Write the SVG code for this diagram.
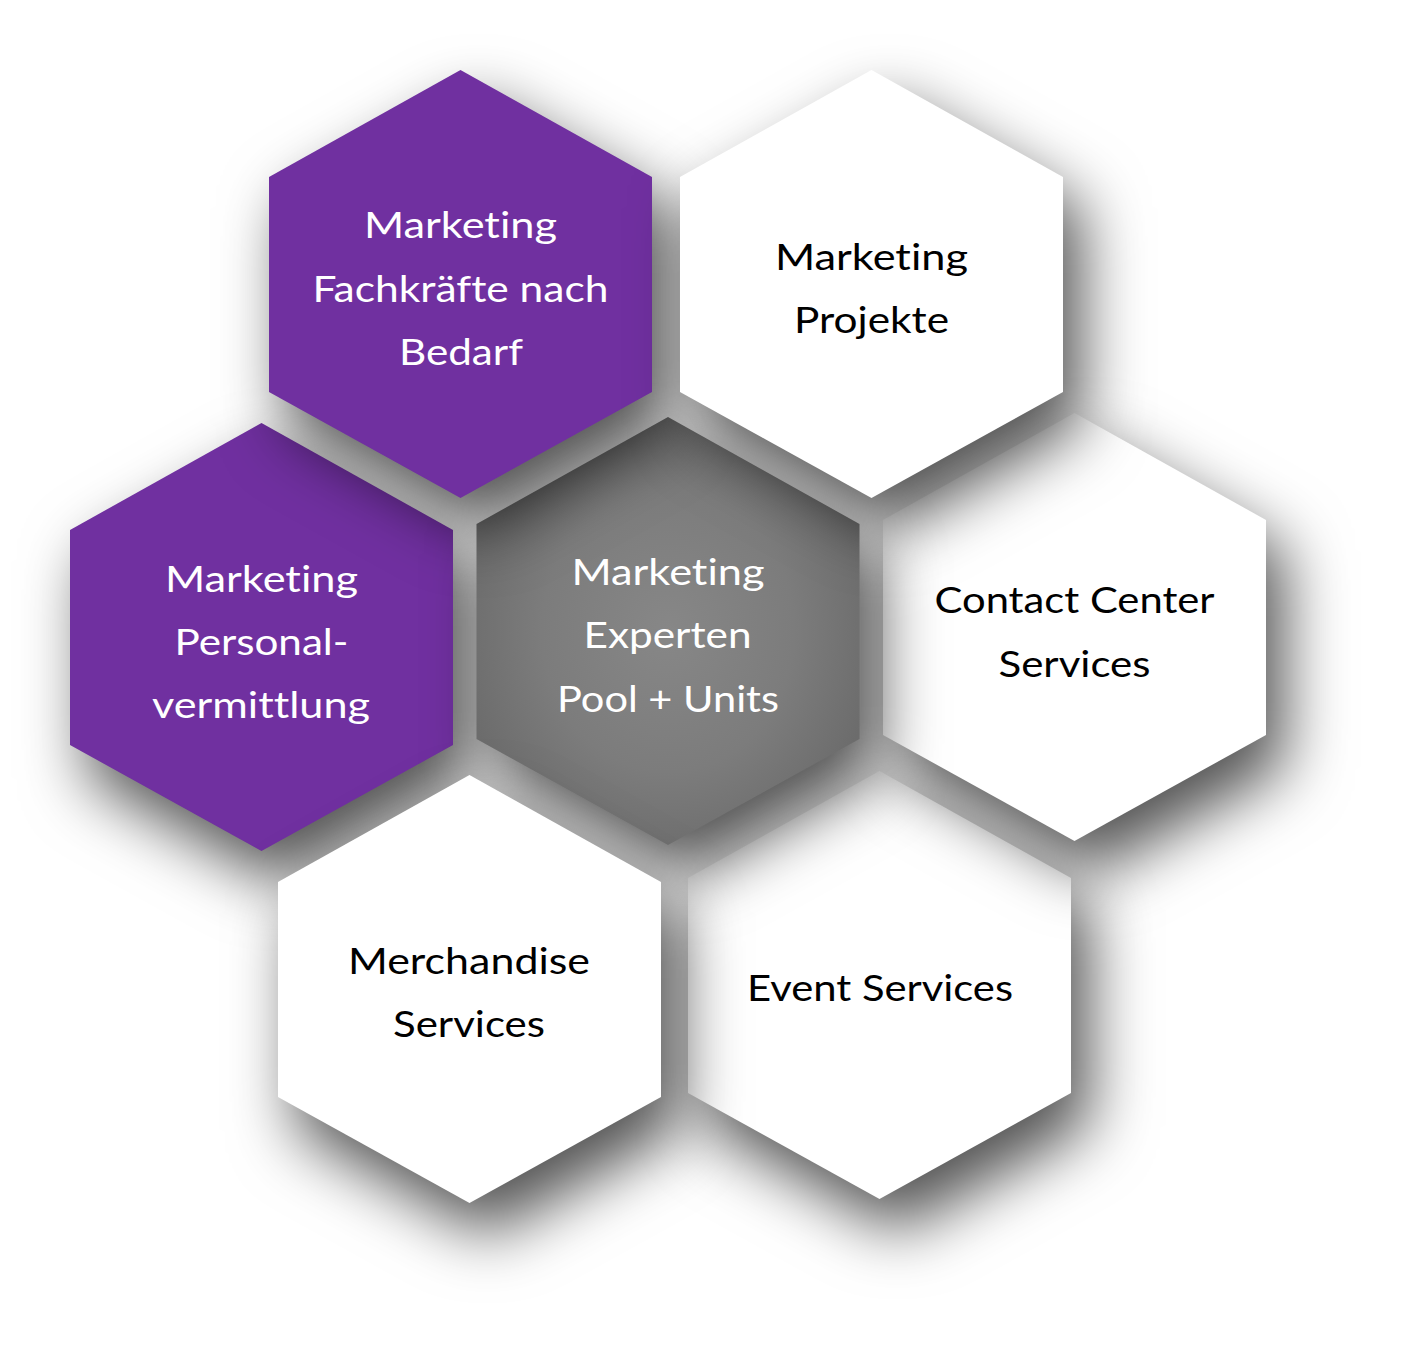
<svg xmlns="http://www.w3.org/2000/svg" xmlns:xlink="http://www.w3.org/1999/xlink" width="1408" height="1347" viewBox="0 0 1408 1347">
  <defs>
    <path id="hex" d="M0,-214 L191.5,-107 L191.5,108 L0,214 L-191.5,108 L-191.5,-107 Z"/>
    <filter id="sh" x="-50%" y="-50%" width="200%" height="200%" color-interpolation-filters="sRGB">
      <feGaussianBlur in="SourceAlpha" stdDeviation="32"/>
      <feOffset dx="18" dy="32" result="b"/>
      <feFlood flood-color="#000" flood-opacity="0.68"/>
      <feComposite in2="b" operator="in"/>
      <feMerge>
        <feMergeNode/>
        <feMergeNode in="SourceGraphic"/>
      </feMerge>
    </filter>
    <radialGradient id="grayGrad" cx="0.5" cy="0.5" r="0.55">
      <stop offset="0" stop-color="#878787"/>
      <stop offset="0.6" stop-color="#7c7c7c"/>
      <stop offset="1" stop-color="#6c6c6c"/>
    </radialGradient>
  </defs>
  <style>
    .hex { filter: url(#sh); }
    .purple { fill: #7030A0; }
    .white { fill: #FFFFFF; }
    .gray { fill: url(#grayGrad); }
    text { font-family: "Lato", "Liberation Sans", sans-serif; font-size: 37.5px; text-anchor: middle; font-variant-ligatures: none; }
    .lt { fill: #FFFFFF; }
    .dk { fill: #000000; }
  </style>
  <rect x="0" y="0" width="1408" height="1347" fill="#FFFFFF"/>

  <g id="connectors"/>

  <g id="node-event-services">
    <use xlink:href="#hex" href="#hex" x="879.5" y="985" class="hex white"/>
    <text class="dk" x="880" y="1000.7" textLength="266" lengthAdjust="spacingAndGlyphs">Event Services</text>
  </g>

  <g id="node-contact-center">
    <use xlink:href="#hex" href="#hex" x="1074.5" y="627" class="hex white"/>
    <text class="dk" x="1074.5" y="613" textLength="280" lengthAdjust="spacingAndGlyphs">Contact Center</text>
    <text class="dk" x="1074.5" y="676.5" textLength="152" lengthAdjust="spacingAndGlyphs">Services</text>
  </g>

  <g id="node-personalvermittlung">
    <use xlink:href="#hex" href="#hex" x="261.5" y="637" class="hex purple"/>
    <text class="lt" x="261.5" y="591.5" textLength="193" lengthAdjust="spacingAndGlyphs">Marketing</text>
    <text class="lt" x="261.5" y="655" textLength="174" lengthAdjust="spacingAndGlyphs">Personal-</text>
    <text class="lt" x="261" y="717.5" textLength="218" lengthAdjust="spacingAndGlyphs">vermittlung</text>
  </g>

  <g id="node-experten-pool">
    <use xlink:href="#hex" href="#hex" x="668" y="631" class="hex gray"/>
    <text class="lt" x="668" y="585" textLength="193" lengthAdjust="spacingAndGlyphs">Marketing</text>
    <text class="lt" x="667.5" y="648.3" textLength="168" lengthAdjust="spacingAndGlyphs">Experten</text>
    <text class="lt" x="668" y="711.7" textLength="222" lengthAdjust="spacingAndGlyphs">Pool + Units</text>
  </g>

  <g id="node-merchandise">
    <use xlink:href="#hex" href="#hex" x="469.5" y="989" class="hex white"/>
    <text class="dk" x="469" y="974" textLength="242" lengthAdjust="spacingAndGlyphs">Merchandise</text>
    <text class="dk" x="469" y="1037.3" textLength="152" lengthAdjust="spacingAndGlyphs">Services</text>
  </g>

  <g id="node-fachkraefte">
    <use xlink:href="#hex" href="#hex" x="460.5" y="284" class="hex purple"/>
    <text class="lt" x="460.5" y="238.3" textLength="193" lengthAdjust="spacingAndGlyphs">Marketing</text>
    <text class="lt" x="460.5" y="301.7" textLength="296" lengthAdjust="spacingAndGlyphs">Fachkräfte nach</text>
    <text class="lt" x="461" y="365" textLength="124" lengthAdjust="spacingAndGlyphs">Bedarf</text>
  </g>

  <g id="node-projekte">
    <use xlink:href="#hex" href="#hex" x="871.5" y="284" class="hex white"/>
    <text class="dk" x="871.5" y="270" textLength="193" lengthAdjust="spacingAndGlyphs">Marketing</text>
    <text class="dk" x="871.5" y="333.3" textLength="155" lengthAdjust="spacingAndGlyphs">Projekte</text>
  </g>
</svg>
